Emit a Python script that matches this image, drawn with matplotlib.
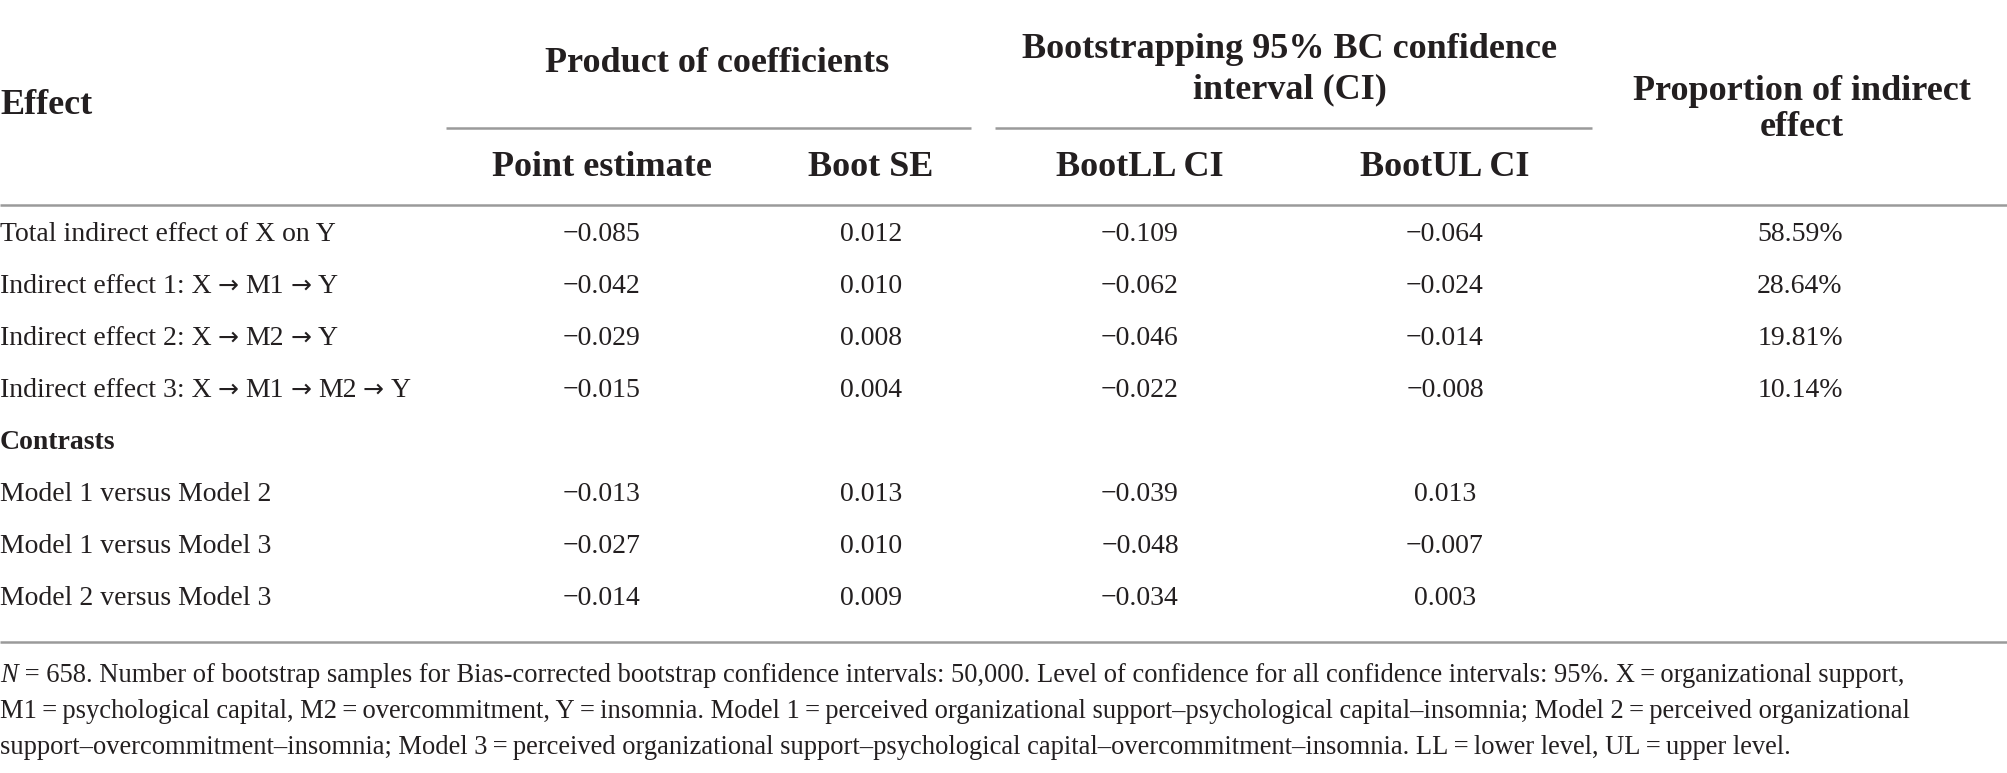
import matplotlib
matplotlib.use("Agg")
import matplotlib.pyplot as plt

# table content
ARROW = "\u2192"
row_labels = [
    "Total indirect effect of X on Y",
    "Indirect effect 1: X" + ARROW + "M1" + ARROW + "Y",
    "Indirect effect 2: X" + ARROW + "M2" + ARROW + "Y",
    "Indirect effect 3: X" + ARROW + "M1" + ARROW + "M2" + ARROW + "Y",
    "Contrasts",
    "Model 1 versus Model 2",
    "Model 1 versus Model 3",
    "Model 2 versus Model 3",
]
point_estimate = ["\u22120.085", "\u22120.042", "\u22120.029", "\u22120.015", "",
                  "\u22120.013", "\u22120.027", "\u22120.014"]
boot_se = ["0.012", "0.010", "0.008", "0.004", "", "0.013", "0.010", "0.009"]
boot_ll = ["\u22120.109", "\u22120.062", "\u22120.046", "\u22120.022", "",
           "\u22120.039", "\u22120.048", "\u22120.034"]
boot_ul = ["\u22120.064", "\u22120.024", "\u22120.014", "\u22120.008", "",
           "0.013", "\u22120.007", "0.003"]
proportion = ["58.59%", "28.64%", "19.81%", "10.14%", "", "", "", ""]

group_headers = ["Product of coefficients",
                 "Bootstrapping 95% BC confidence\ninterval (CI)",
                 "Proportion of indirect\neffect"]
sub_headers = ["Point estimate", "Boot SE", "BootLL CI", "BootUL CI"]

note_lines = [
    " = 658. Number of bootstrap samples for Bias-corrected bootstrap confidence intervals: 50,000. "
    "Level of confidence for all confidence intervals: 95%. X\u2009=\u2009organizational support,",
    "M1\u2009=\u2009psychological capital, M2\u2009=\u2009overcommitment, Y\u2009=\u2009insomnia. "
    "Model 1\u2009=\u2009perceived organizational support\u2013psychological capital\u2013insomnia; "
    "Model 2\u2009=\u2009perceived organizational",
    "support\u2013overcommitment\u2013insomnia; Model 3\u2009=\u2009perceived organizational "
    "support\u2013psychological capital\u2013overcommitment\u2013insomnia. LL\u2009=\u2009lower level, "
    "UL\u2009=\u2009upper level.",
]

FAM = ["Liberation Serif", "DejaVu Serif"]
INK = "#231f20"
RULE = "#9a9a9a"

fig = plt.figure(figsize=(20.08, 7.73), dpi=100)
ax = fig.add_axes([0, 0, 1, 1])
ax.set_xlim(0, 2008)
ax.set_ylim(773, 0)
ax.axis("off")
r = fig.canvas.get_renderer()

col_x = [602, 871, 1140, 1445, 1800]
row_y = [232, 284, 336, 388, 440, 492, 544, 596]


def text_width(t):
    return t.get_window_extent(renderer=r).width


# header
hd = dict(family=FAM, fontsize=26, fontweight="bold", color=INK)
ax.text(0, 105, "Effect", ha="left", va="center", **hd)
ax.text(717, 64, group_headers[0], ha="center", va="center", **hd)
ax.text(1290, 70, group_headers[1], ha="center", va="center",
        linespacing=1.3, **hd)
ax.text(1802, 110, group_headers[2], ha="center", va="center",
        linespacing=1.12, **hd)
for x, s in zip(col_x[:4], sub_headers):
    ax.text(x, 167, s, ha="center", va="center", **hd)

ax.hlines(128, 446, 971, color=RULE, lw=1.8)
ax.hlines(128, 995, 1592, color=RULE, lw=1.8)
ax.hlines(205, 0, 2008, color=RULE, lw=1.8)
ax.hlines(642, 0, 2008, color=RULE, lw=1.8)

# body
BODY = 20
bd = dict(fontsize=BODY, color=INK, va="baseline")
for i, y in enumerate(row_y):
    base = y + 9
    w = "bold" if row_labels[i] == "Contrasts" else "normal"
    x = 0
    for k, part in enumerate(row_labels[i].split(ARROW)):
        if k > 0:
            x += 6
            a = ax.text(x, base, ARROW, family="DejaVu Sans",
                        fontsize=18, color=INK, va="baseline")
            x += text_width(a) + 7
        t = ax.text(x, base, part, ha="left", family=FAM, fontweight=w, **bd)
        x += text_width(t)
    for cx, col in zip(col_x, [point_estimate, boot_se, boot_ll, boot_ul, proportion]):
        if col[i]:
            ax.text(cx, base, col[i], ha="center", family=FAM, **bd)

# footnote
fn = dict(family=FAM, fontsize=19.1, color=INK, va="baseline")
note_y = [682, 718, 754]
n_txt = ax.text(0, note_y[0], "N", ha="left", style="italic", **fn)
ax.text(text_width(n_txt), note_y[0], note_lines[0], ha="left", **fn)
for y, s in zip(note_y[1:], note_lines[1:]):
    ax.text(0, y, s, ha="left", **fn)

fig.savefig("out.png", dpi=100, facecolor="white")
